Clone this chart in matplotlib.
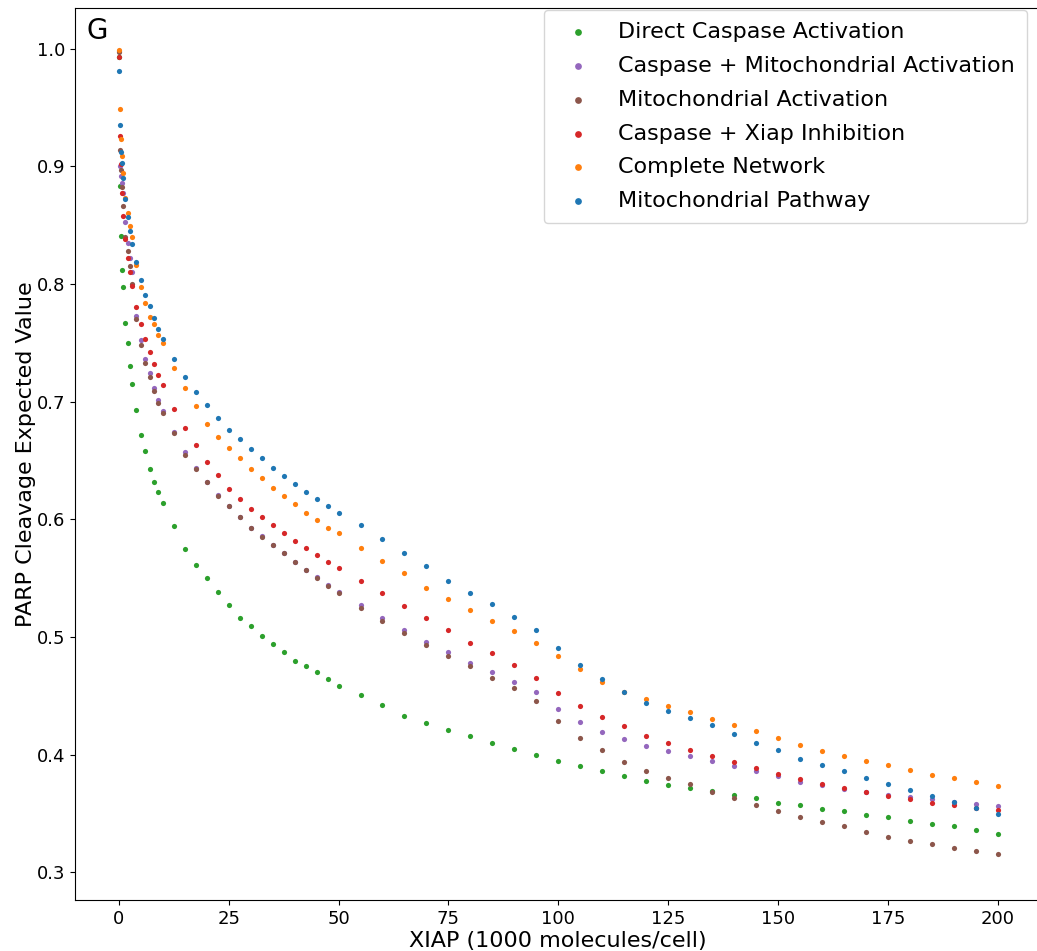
import numpy as np
import matplotlib
matplotlib.use("Agg")
import matplotlib.pyplot as plt

# XIAP amount (1000 molecules/cell), shared by every series
xiap = [0, 0.2, 0.4, 0.7, 1, 1.5, 2, 2.5, 3, 4, 5, 6, 7, 8, 9, 10,
        12.5, 15, 17.5, 20, 22.5, 25, 27.5, 30, 32.5, 35, 37.5, 40, 42.5, 45, 47.5, 50,
        55, 60, 65, 70, 75, 80, 85, 90, 95, 100,
        105, 110, 115, 120, 125, 130, 135, 140, 145, 150,
        155, 160, 165, 170, 175, 180, 185, 190, 195, 200]

direct_caspase = [0.993, 0.883, 0.841, 0.812, 0.797, 0.767, 0.750, 0.730, 0.715, 0.693, 0.672, 0.658, 0.643, 0.632, 0.623, 0.614,
                  0.594, 0.575, 0.561, 0.550, 0.538, 0.527, 0.516, 0.509, 0.501, 0.494, 0.487, 0.480, 0.475, 0.470, 0.464, 0.458,
                  0.451, 0.442, 0.433, 0.427, 0.421, 0.416, 0.410, 0.405, 0.400, 0.395,
                  0.390, 0.386, 0.382, 0.378, 0.374, 0.372, 0.369, 0.366, 0.363, 0.359,
                  0.357, 0.354, 0.352, 0.349, 0.347, 0.344, 0.341, 0.339, 0.336, 0.333]

caspase_mito = [0.998, 0.900, 0.892, 0.886, 0.877, 0.853, 0.835, 0.822, 0.810, 0.773, 0.752, 0.736, 0.724, 0.712, 0.701, 0.692,
                0.674, 0.657, 0.644, 0.632, 0.621, 0.611, 0.602, 0.593, 0.586, 0.578, 0.571, 0.564, 0.557, 0.551, 0.544, 0.538,
                0.527, 0.516, 0.506, 0.496, 0.487, 0.478, 0.470, 0.462, 0.453, 0.439,
                0.428, 0.419, 0.413, 0.407, 0.403, 0.399, 0.395, 0.390, 0.386, 0.382,
                0.377, 0.374, 0.371, 0.368, 0.366, 0.364, 0.362, 0.360, 0.358, 0.356]

mito_activation = [0.997, 0.914, 0.897, 0.882, 0.866, 0.840, 0.828, 0.815, 0.800, 0.770, 0.748, 0.733, 0.721, 0.709, 0.699, 0.690,
                   0.673, 0.655, 0.643, 0.632, 0.620, 0.611, 0.602, 0.593, 0.585, 0.578, 0.571, 0.564, 0.557, 0.550, 0.543, 0.537,
                   0.525, 0.514, 0.503, 0.493, 0.484, 0.475, 0.465, 0.457, 0.446, 0.429,
                   0.414, 0.404, 0.394, 0.386, 0.380, 0.375, 0.368, 0.363, 0.357, 0.352,
                   0.347, 0.343, 0.339, 0.334, 0.330, 0.327, 0.324, 0.321, 0.318, 0.316]

caspase_xiap = [0.993, 0.926, 0.902, 0.877, 0.858, 0.838, 0.822, 0.810, 0.798, 0.780, 0.766, 0.753, 0.742, 0.732, 0.723, 0.714,
                0.694, 0.678, 0.663, 0.649, 0.638, 0.626, 0.617, 0.609, 0.602, 0.595, 0.588, 0.582, 0.576, 0.570, 0.564, 0.559,
                0.548, 0.537, 0.526, 0.516, 0.506, 0.495, 0.486, 0.476, 0.465, 0.452,
                0.441, 0.432, 0.424, 0.416, 0.410, 0.404, 0.399, 0.394, 0.389, 0.384,
                0.379, 0.375, 0.372, 0.368, 0.365, 0.362, 0.359, 0.357, 0.355, 0.353]

complete_network = [0.999, 0.949, 0.923, 0.909, 0.894, 0.873, 0.860, 0.849, 0.840, 0.816, 0.797, 0.784, 0.772, 0.766, 0.757, 0.750,
                    0.729, 0.712, 0.696, 0.681, 0.670, 0.661, 0.652, 0.643, 0.635, 0.627, 0.620, 0.613, 0.605, 0.599, 0.593, 0.588,
                    0.576, 0.565, 0.554, 0.542, 0.532, 0.523, 0.514, 0.505, 0.495, 0.484,
                    0.473, 0.462, 0.453, 0.447, 0.441, 0.436, 0.430, 0.425, 0.420, 0.414,
                    0.408, 0.403, 0.399, 0.395, 0.391, 0.387, 0.383, 0.380, 0.377, 0.373]

mito_pathway = [0.981, 0.935, 0.912, 0.903, 0.890, 0.872, 0.857, 0.845, 0.834, 0.819, 0.803, 0.791, 0.781, 0.771, 0.762, 0.753,
                0.736, 0.721, 0.708, 0.697, 0.686, 0.676, 0.668, 0.660, 0.652, 0.644, 0.637, 0.630, 0.623, 0.617, 0.611, 0.605,
                0.595, 0.583, 0.571, 0.560, 0.548, 0.537, 0.528, 0.517, 0.506, 0.491,
                0.476, 0.464, 0.453, 0.444, 0.437, 0.431, 0.425, 0.418, 0.410, 0.404,
                0.396, 0.391, 0.386, 0.380, 0.375, 0.370, 0.365, 0.360, 0.355, 0.350]

series = [
    ("Direct Caspase Activation", direct_caspase, "tab:green"),
    ("Caspase + Mitochondrial Activation", caspase_mito, "tab:purple"),
    ("Mitochondrial Activation", mito_activation, "tab:brown"),
    ("Caspase + Xiap Inhibition", caspase_xiap, "tab:red"),
    ("Complete Network", complete_network, "tab:orange"),
    ("Mitochondrial Pathway", mito_pathway, "tab:blue"),
]

fig = plt.figure(figsize=(10.37, 9.51), dpi=100)
ax = fig.add_axes([0.0723, 0.0536, 0.932, 0.938])

for name, vals, col in series:
    ax.scatter(xiap, vals, s=14, color=col, label=name, linewidths=0)

ax.set_xlim(-10, 210)
ax.set_ylim(0.2765, 1.0345)
ax.set_xticks([0, 25, 50, 75, 100, 125, 150, 175, 200])
ax.tick_params(labelsize=13)
ax.set_xlabel("XIAP (1000 molecules/cell)", fontsize=16, labelpad=2)
ax.set_ylabel("PARP Cleavage Expected Value", fontsize=16, labelpad=0.5)
ax.text(0.012, 0.99, "G", transform=ax.transAxes, fontsize=20, va="top", ha="left")

ax.legend(loc="upper right", fontsize=16, markerscale=1.3,
          labelspacing=0.62, borderpad=0.55,
          bbox_to_anchor=(0.9855, 0.9978), borderaxespad=0)

fig.savefig("out.png", dpi=100)
